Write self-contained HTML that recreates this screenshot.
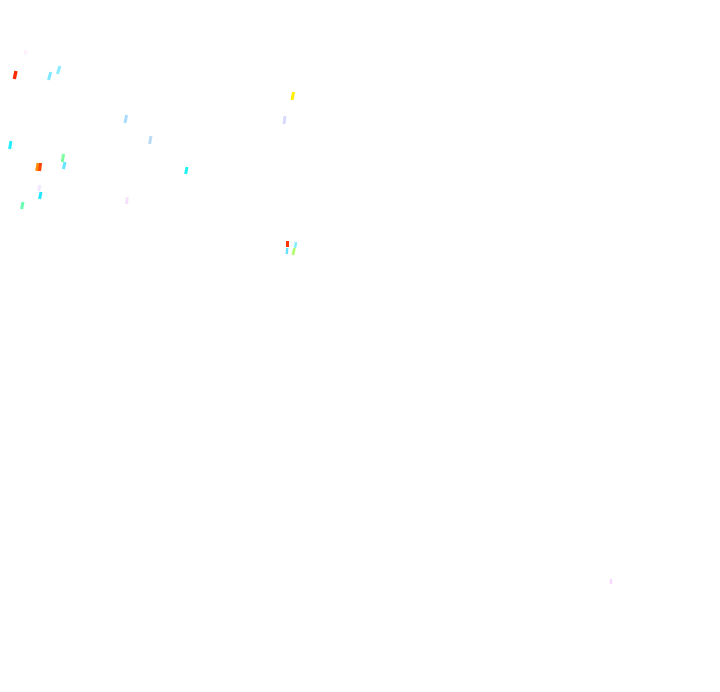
<!DOCTYPE html>
<html>
<head>
<meta charset="utf-8">
<style>
html,body{margin:0;padding:0;background:#fff;width:720px;height:692px;overflow:hidden}
svg{display:block}
line{stroke-linecap:butt}
</style>
</head>
<body>
<svg width="720" height="692" viewBox="0 0 720 692" xmlns="http://www.w3.org/2000/svg">
<rect width="720" height="692" fill="#fff"/>
<g stroke-width="3">
<line x1="14.3" y1="79" x2="16" y2="71" stroke="#ff2a00" stroke-width="3.4"/>
<line x1="48.5" y1="80" x2="50.8" y2="72" stroke="#7fe8ff"/>
<line x1="57.5" y1="74" x2="59.8" y2="66" stroke="#88eeff"/>
<line x1="25" y1="55" x2="26" y2="50" stroke="#fdf2fb"/>
<line x1="9.6" y1="149" x2="11" y2="141" stroke="#22eeff"/>
<line x1="62.2" y1="162" x2="63.6" y2="154" stroke="#7fff9f"/>
<line x1="63.4" y1="169" x2="65" y2="162" stroke="#66e6ff"/>
<line x1="37" y1="171" x2="38.4" y2="163" stroke="#ff8c00" stroke-width="3.6"/>
<line x1="39.6" y1="171" x2="40.6" y2="163" stroke="#ff4400" stroke-width="3"/>
<line x1="38.6" y1="191" x2="40" y2="185" stroke="#f5e6ff"/>
<line x1="39.6" y1="199" x2="41" y2="192" stroke="#22e6ff"/>
<line x1="21.6" y1="209" x2="23" y2="202" stroke="#66ffb0"/>
<line x1="292" y1="100" x2="293.6" y2="92" stroke="#ffee00"/>
<line x1="284" y1="124" x2="285" y2="116" stroke="#d8d8ff"/>
<line x1="287.5" y1="247" x2="287.5" y2="241" stroke="#ff3300"/>
<line x1="286.8" y1="254" x2="287.2" y2="248" stroke="#66e0ff" stroke-width="2.4"/>
<line x1="295" y1="248" x2="296" y2="242" stroke="#88eeff" stroke-width="2.6"/>
<line x1="293" y1="255" x2="294.5" y2="248" stroke="#b0ff66" stroke-width="2.6"/>
<line x1="125" y1="123" x2="126.6" y2="115" stroke="#aadcff"/>
<line x1="149.6" y1="144" x2="151" y2="136" stroke="#b8dcf8"/>
<line x1="185.6" y1="174" x2="187" y2="167" stroke="#1ff0f0"/>
<line x1="126.4" y1="204" x2="127.4" y2="197" stroke="#f8e0ff"/>
<line x1="611" y1="584" x2="611" y2="579" stroke="#f8d8ff" stroke-width="2.4"/>
</g>
</svg>
</body>
</html>
